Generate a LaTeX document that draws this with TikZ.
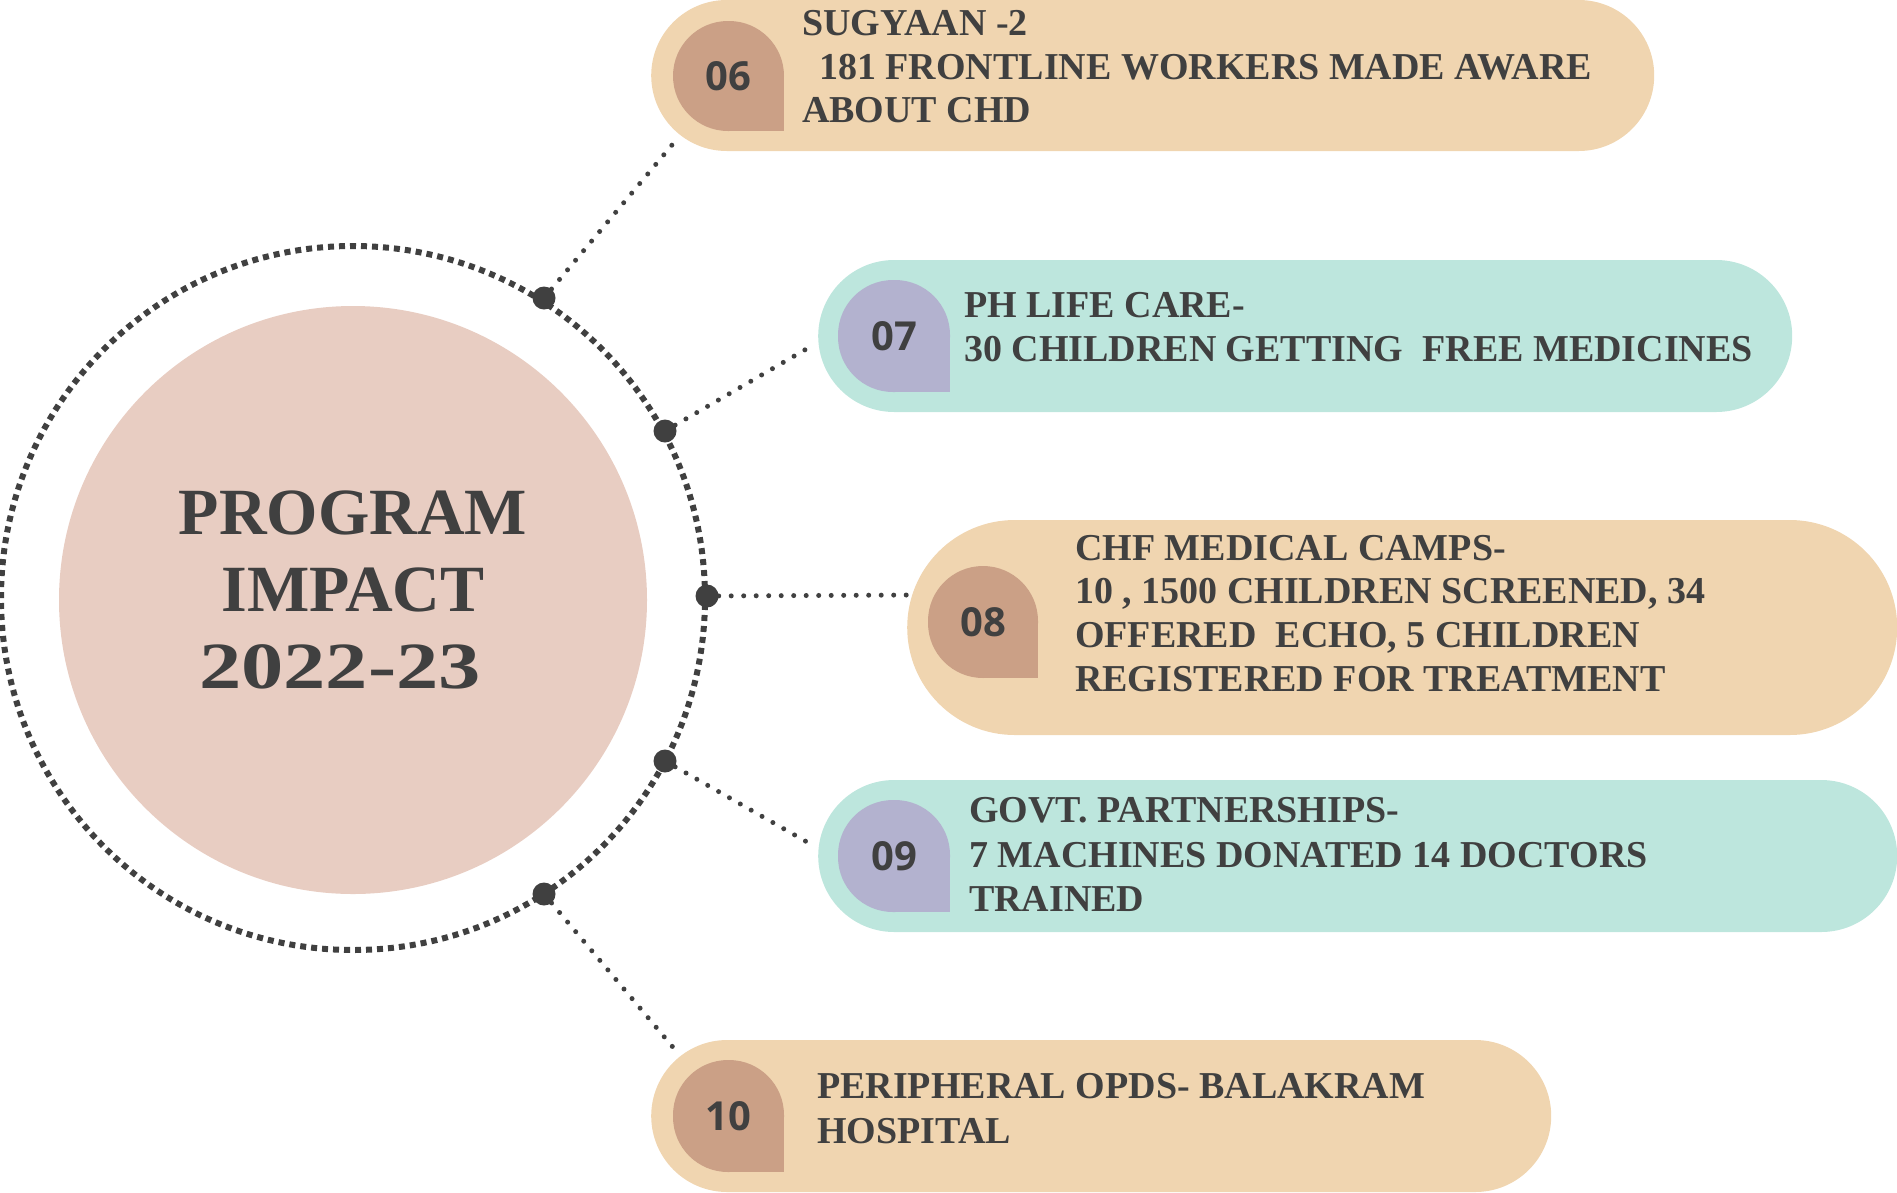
\documentclass[tikz,border=0pt]{standalone}
\usepackage{fontspec}
\usetikzlibrary{shapes.misc}
\newfontfamily\bodyfont{Liberation Serif}
\newfontfamily\numfont{Open Sans}
\definecolor{peach}{HTML}{F0D5B0}
\definecolor{peachtab}{HTML}{CBA086}
\definecolor{tealc}{HTML}{BDE6DD}
\definecolor{lav}{HTML}{B3B2CF}
\definecolor{pinkc}{HTML}{E8CDC2}
\definecolor{ink}{HTML}{404040}
\begin{document}
\begin{tikzpicture}[x=1pt,y=-1pt,
  pbox/.style={rounded rectangle, fill=peach, draw=none, anchor=west, inner sep=0pt},
  tbox/.style={rounded rectangle, fill=tealc, draw=none, anchor=west, inner sep=0pt},
  txtline/.style={font=\bodyfont\bfseries\fontsize{38}{44}\selectfont, text=ink, anchor=base west, inner sep=0pt},
  title/.style={font=\bodyfont\bfseries\fontsize{66}{77}\selectfont, text=ink, anchor=base, inner sep=0pt},
  num/.style={font=\numfont\bfseries\fontsize{40}{44}\selectfont, text=ink, inner sep=0pt},
  ring/.style={draw=ink, line width=6pt, dash pattern=on 6pt off 5pt},
  conn/.style={draw=ink, line width=5pt, line cap=round, dash pattern=on 0pt off 12.5pt},
  dotn/.style={circle, fill=ink, minimum size=23pt, inner sep=0pt}]
\useasboundingbox (0,0) rectangle (1897,1192);

% central circle
\node[circle, fill=pinkc, minimum size=588pt, inner sep=0pt] (c) at (353,600) {};
\draw[ring] (353,598) circle (352pt);
\node[title] (ti1) at (353,534) {PROGRAM};
\node[title] (ti2) at (353,611) {IMPACT};
\node[title] (ti3) at (340,688) {\scalebox{1.28}[1]{2022-23}};

% dots on ring
\node[dotn] (d6) at (544,298) {};
\node[dotn] (d7) at (665,431) {};
\node[dotn] (d8) at (707,596) {};
\node[dotn] (d9) at (665,761) {};
\node[dotn] (d10) at (544,894) {};

% connector ends
\coordinate (e6) at (677,139);
\coordinate (e7) at (815,344);
\coordinate (e8) at (910,595);
\coordinate (e9) at (814,846);
\coordinate (e10) at (677,1052);
\draw[conn] (d6) -- (e6);
\draw[conn] (d7) -- (e7);
\draw[conn] (d8) -- (e8);
\draw[conn] (d9) -- (e9);
\draw[conn] (d10) -- (e10);

% boxes
\node[pbox, minimum width=1003pt, minimum height=151pt] (b6) at (651,75.5) {};
\node[tbox, minimum width=974pt, minimum height=152pt] (b7) at (818,336) {};
\node[pbox, minimum width=990pt, minimum height=215pt] (b8) at (907,627.5) {};
\node[tbox, minimum width=1079pt, minimum height=152pt] (b9) at (818,856) {};
\node[pbox, minimum width=900pt, minimum height=152pt] (b10) at (651,1116) {};

% tabs
\fill[peachtab, rounded corners=55pt] (673,21) rectangle (784,131);
\fill[peachtab] (728,76) rectangle (784,131);
\fill[lav, rounded corners=55pt] (838,280) rectangle (950,392);
\fill[lav] (894,336) rectangle (950,392);
\fill[peachtab, rounded corners=55pt] (928,566) rectangle (1038,678);
\fill[peachtab] (983,622) rectangle (1038,678);
\fill[lav, rounded corners=55pt] (838,800) rectangle (950,912);
\fill[lav] (894,856) rectangle (950,912);
\fill[peachtab, rounded corners=55pt] (673,1060) rectangle (784,1172);
\fill[peachtab] (728,1116) rectangle (784,1172);

\node[num] (n6) at (728,76) {06};
\node[num] (n7) at (894,336) {07};
\node[num] (n8) at (983,622) {08};
\node[num] (n9) at (894,856) {09};
\node[num] (n10) at (728,1116) {10};

% texts
\node[txtline] (t6a) at (802,35) {SUGYAAN -2};
\node[txtline] (t6b) at (819,79) {181 FRONTLINE WORKERS MADE AWARE};
\node[txtline] (t6c) at (802,122) {ABOUT CHD};

\node[txtline] (t7a) at (964,317) {PH LIFE CARE-};
\node[txtline] (t7b) at (964,361) {30 CHILDREN GETTING\ \ FREE MEDICINES};

\node[txtline] (t8a) at (1075,560) {CHF MEDICAL CAMPS-};
\node[txtline] (t8b) at (1075,603) {10 , 1500 CHILDREN SCREENED, 34};
\node[txtline] (t8c) at (1075,647) {OFFERED\ \ ECHO, 5 CHILDREN};
\node[txtline] (t8d) at (1075,691) {REGISTERED FOR TREATMENT};

\node[txtline] (t9a) at (969,822) {GOVT. PARTNERSHIPS-};
\node[txtline] (t9b) at (969,867) {7 MACHINES DONATED 14 DOCTORS};
\node[txtline] (t9c) at (969,911) {TRAINED};

\node[txtline] (t10a) at (817,1098) {PERIPHERAL OPDS- BALAKRAM};
\node[txtline] (t10b) at (817,1143) {HOSPITAL};
\end{tikzpicture}
\end{document}
